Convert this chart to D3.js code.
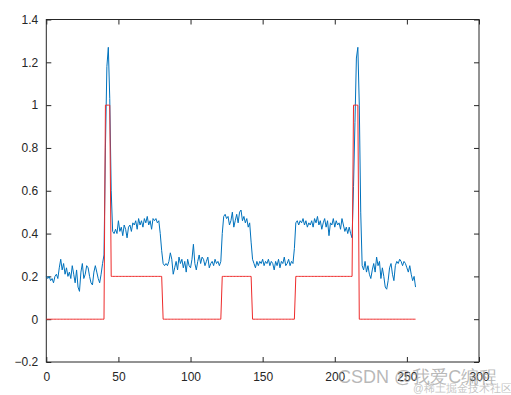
<!DOCTYPE html>
<html>
<head>
<meta charset="utf-8">
<script src="https://cdn.jsdelivr.net/npm/d3@7"></script>
<style>
  body { margin: 0; background: #fff; }
  text { font-family: "Liberation Sans", Arial, sans-serif; }
</style>
</head>
<body>
<div id="chart"></div>
<script>
// sample index 0..256
var red = [];
var redLevels = [
  [0, 40, 0], [41, 44, 1], [45, 80, 0.2], [81, 121, 0], [122, 142, 0.2],
  [143, 172, 0], [173, 212, 0.2], [213, 216, 1], [217, 256, 0]
];

var blue = [
  0.20,0.19,0.20,0.18,0.19,0.17,0.20,0.21,0.19,0.24,
  0.28,0.23,0.26,0.21,0.24,0.20,0.22,0.19,0.25,0.21,
  0.17,0.23,0.15,0.13,0.22,0.26,0.19,0.21,0.25,0.24,
  0.20,0.17,0.16,0.22,0.25,0.22,0.19,0.17,0.21,0.26,
  0.30,0.80,1.18,1.27,1.03,0.60,0.41,0.40,0.42,0.40,
  0.46,0.41,0.43,0.39,0.44,0.42,0.38,0.43,0.44,0.41,
  0.45,0.44,0.46,0.42,0.47,0.44,0.46,0.43,0.47,0.45,
  0.48,0.44,0.46,0.42,0.47,0.46,0.47,0.45,0.46,0.40,
  0.32,0.26,0.25,0.26,0.25,0.27,0.31,0.28,0.21,0.24,
  0.27,0.23,0.29,0.26,0.28,0.24,0.27,0.22,0.28,0.25,
  0.24,0.28,0.35,0.26,0.23,0.27,0.30,0.26,0.29,0.28,
  0.25,0.27,0.29,0.24,0.26,0.27,0.25,0.28,0.26,0.27,
  0.25,0.27,0.40,0.48,0.49,0.47,0.48,0.44,0.46,0.50,
  0.43,0.46,0.49,0.45,0.50,0.51,0.46,0.48,0.45,0.47,
  0.43,0.45,0.36,0.28,0.26,0.24,0.27,0.25,0.27,0.26,
  0.28,0.25,0.27,0.26,0.28,0.25,0.27,0.26,0.23,0.27,
  0.25,0.28,0.24,0.27,0.26,0.29,0.25,0.26,0.28,0.25,
  0.27,0.26,0.33,0.45,0.46,0.44,0.46,0.45,0.47,0.44,
  0.46,0.43,0.45,0.44,0.46,0.43,0.47,0.45,0.48,0.44,
  0.46,0.42,0.45,0.47,0.43,0.46,0.39,0.45,0.44,0.47,
  0.43,0.46,0.44,0.45,0.42,0.47,0.44,0.41,0.43,0.40,
  0.43,0.40,0.38,0.62,0.92,1.22,1.27,1.00,0.50,0.25,
  0.23,0.27,0.22,0.25,0.21,0.19,0.23,0.26,0.22,0.29,
  0.25,0.27,0.19,0.24,0.20,0.15,0.14,0.18,0.24,0.26,
  0.21,0.18,0.25,0.27,0.26,0.28,0.27,0.25,0.27,0.26,
  0.24,0.22,0.25,0.21,0.18,0.20,0.15
];

redLevels.forEach(function(seg){
    for (var i = seg[0]; i <= seg[1]; i++) red[i] = seg[2];
});

var xTicks = [0, 50, 100, 150, 200, 250, 300];
var yTicks = [-0.2, 0, 0.2, 0.4, 0.6, 0.8, 1, 1.2, 1.4];

var svgWidth = 511;
var svgHeight = 395;
var chartMargin = { top: 19.5, right: 32, bottom: 33, left: 46.3 };
var chartWidth = svgWidth - chartMargin.left - chartMargin.right;
var chartHeight = svgHeight - chartMargin.top - chartMargin.bottom;

var svg = d3.select('#chart').append('svg')
    .attr('width', svgWidth)
    .attr('height', svgHeight);

var chartGroup = svg.append('g')
    .attr('transform', `translate(${chartMargin.left}, ${chartMargin.top})`);

var xScale = d3.scaleLinear().domain([0, 300]).range([0, chartWidth]);
var yScale = d3.scaleLinear().domain([-0.2, 1.4]).range([chartHeight, 0]);

var fmt = d => d3.format('~g')(+d.toFixed(1));

// axes with inward ticks, mirrored on top and right
function styleAxis(g) {
    g.select('.domain').remove();
    g.selectAll('line').attr('stroke', '#262626');
    g.selectAll('text').attr('fill', '#262626').attr('font-size', '12px');
}

chartGroup.append('g')
    .attr('transform', `translate(0,${chartHeight})`)
    .call(d3.axisBottom(xScale).tickValues(xTicks).tickSizeInner(-5).tickPadding(10).tickFormat(fmt))
    .call(styleAxis);

chartGroup.append('g')
    .call(d3.axisTop(xScale).tickValues(xTicks).tickSizeInner(-5).tickFormat(''))
    .call(styleAxis);

chartGroup.append('g')
    .call(d3.axisLeft(yScale).tickValues(yTicks).tickSizeInner(-5).tickPadding(8).tickFormat(fmt))
    .call(styleAxis);

chartGroup.append('g')
    .attr('transform', `translate(${chartWidth},0)`)
    .call(d3.axisRight(yScale).tickValues(yTicks).tickSizeInner(-5).tickFormat(''))
    .call(styleAxis);

chartGroup.append('rect')
    .attr('width', chartWidth)
    .attr('height', chartHeight)
    .attr('fill', 'none')
    .attr('stroke', '#262626')
    .attr('stroke-width', 1);

var line = d3.line()
    .x((d, i) => xScale(i))
    .y(d => yScale(d));

chartGroup.append('path')
    .datum(blue)
    .attr('d', line)
    .attr('fill', 'none')
    .attr('stroke', '#0072BD')
    .attr('stroke-width', 1);

chartGroup.append('path')
    .datum(red)
    .attr('d', line)
    .attr('fill', 'none')
    .attr('stroke', '#ee2b2b')
    .attr('stroke-width', 1);

// watermark (overlaps the last tick labels, as in the source image)
svg.append('text')
    .attr('x', 338)
    .attr('y', 383)
    .attr('font-size', '18px')
    .attr('fill', '#999')
    .attr('fill-opacity', 0.7)
    .attr('font-family', '"Noto Sans CJK SC", "Liberation Sans", sans-serif')
    .text('CSDN @我爱C编程');

svg.append('text')
    .attr('x', 413)
    .attr('y', 392)
    .attr('font-size', '10.5px')
    .attr('fill', '#aaa')
    .attr('fill-opacity', 0.7)
    .attr('font-family', '"Noto Sans CJK SC", sans-serif')
    .text('@稀土掘金技术社区');
</script>
</body>
</html>
